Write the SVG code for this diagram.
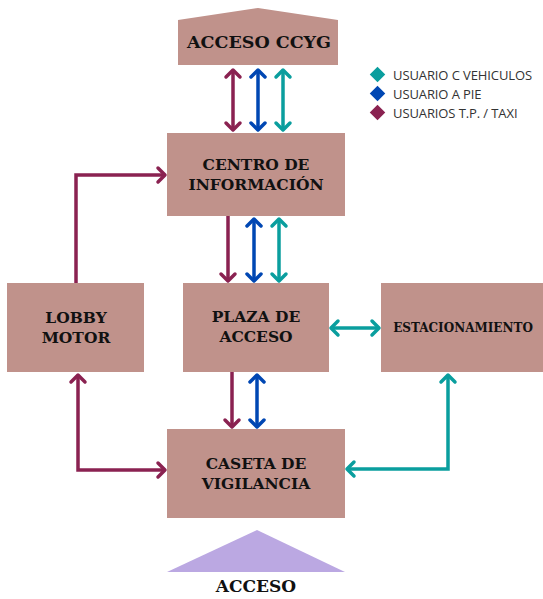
<svg xmlns="http://www.w3.org/2000/svg" width="543" height="599" viewBox="0 0 543 599">
  <style>
    .node { fill: #c0928b; }
    .lbl { font-family: "DejaVu Serif", "Liberation Serif", serif; font-weight: bold; fill: #111; text-anchor: middle; }
    .leg { font-family: "Open Sans", "Liberation Sans", sans-serif; font-size: 13px; fill: #333; letter-spacing: -0.1px; }
    .mag { stroke: #8a2251; }
    .blu { stroke: #0047b3; }
    .tea { stroke: #0a9e9e; }
    .ln { fill: none; stroke-width: 3.5; stroke-linejoin: miter; }
  </style>
  <defs>
    <marker id="hm" markerUnits="userSpaceOnUse" viewBox="-12 -12 24 24" markerWidth="24" markerHeight="24" refX="0" refY="0" orient="auto-start-reverse" overflow="visible">
      <path d="M-7,-7 L0,0 L-7,7" fill="none" stroke="#8a2251" stroke-width="3.5" stroke-linecap="round" stroke-linejoin="round"/>
    </marker>
    <marker id="hb" markerUnits="userSpaceOnUse" viewBox="-12 -12 24 24" markerWidth="24" markerHeight="24" refX="0" refY="0" orient="auto-start-reverse" overflow="visible">
      <path d="M-7,-7 L0,0 L-7,7" fill="none" stroke="#0047b3" stroke-width="3.5" stroke-linecap="round" stroke-linejoin="round"/>
    </marker>
    <marker id="ht" markerUnits="userSpaceOnUse" viewBox="-12 -12 24 24" markerWidth="24" markerHeight="24" refX="0" refY="0" orient="auto-start-reverse" overflow="visible">
      <path d="M-7,-7 L0,0 L-7,7" fill="none" stroke="#0a9e9e" stroke-width="3.5" stroke-linecap="round" stroke-linejoin="round"/>
    </marker>
  </defs>

  <!-- nodes -->
  <g id="acceso-ccyg">
    <polygon class="node" points="178,20 258,8 338,20 338,65 178,65"/>
    <text class="lbl" x="259" y="48" font-size="17.5">ACCESO CCYG</text>
  </g>
  <g id="centro-informacion">
    <rect class="node" x="167" y="133" width="178" height="83"/>
    <text class="lbl" x="256" y="170" font-size="15.5">CENTRO DE</text>
    <text class="lbl" x="256" y="190" font-size="15.5">INFORMACIÓN</text>
  </g>
  <g id="lobby-motor">
    <rect class="node" x="7" y="283" width="137" height="89"/>
    <text class="lbl" x="76" y="323" font-size="15.5">LOBBY</text>
    <text class="lbl" x="76" y="343" font-size="15.5">MOTOR</text>
  </g>
  <g id="plaza-acceso">
    <rect class="node" x="183" y="283" width="146" height="89"/>
    <text class="lbl" x="256" y="322" font-size="15.5">PLAZA DE</text>
    <text class="lbl" x="256" y="342" font-size="15.5">ACCESO</text>
  </g>
  <g id="estacionamiento">
    <rect class="node" x="381" y="283" width="162" height="89"/>
    <text class="lbl" x="463" y="332" font-size="12">ESTACIONAMIENTO</text>
  </g>
  <g id="caseta-vigilancia">
    <rect class="node" x="167" y="429" width="178" height="89"/>
    <text class="lbl" x="256" y="469" font-size="15.5">CASETA DE</text>
    <text class="lbl" x="256" y="489" font-size="15.5">VIGILANCIA</text>
  </g>
  <g id="acceso">
    <polygon points="257,530 345,572 167,572" fill="#bba8e2"/>
    <text class="lbl" x="256" y="592" font-size="17">ACCESO</text>
  </g>

  <!-- legend -->
  <g id="legend">
    <rect x="372" y="69" width="11" height="11" fill="#0a9e9e" transform="rotate(45 377.5 74.5)"/>
    <text class="leg" x="393" y="80">USUARIO C VEHICULOS</text>
    <rect x="372" y="88" width="11" height="11" fill="#0047b3" transform="rotate(45 377.5 93.5)"/>
    <text class="leg" x="393" y="99">USUARIO A PIE</text>
    <rect x="372" y="107" width="11" height="11" fill="#8a2251" transform="rotate(45 377.5 112.5)"/>
    <text class="leg" x="393" y="118">USUARIOS T.P. / TAXI</text>
  </g>

  <!-- connectors -->
  <g id="connectors">
    <!-- acceso ccyg <-> centro -->
    <line class="ln mag" x1="233" y1="70" x2="233" y2="130" marker-start="url(#hm)" marker-end="url(#hm)"/>
    <line class="ln blu" x1="258" y1="70" x2="258" y2="130" marker-start="url(#hb)" marker-end="url(#hb)"/>
    <line class="ln tea" x1="283" y1="70" x2="283" y2="130" marker-start="url(#ht)" marker-end="url(#ht)"/>
    <!-- centro <-> plaza -->
    <line class="ln mag" x1="228" y1="216" x2="228" y2="281" marker-end="url(#hm)"/>
    <line class="ln blu" x1="254" y1="219" x2="254" y2="281" marker-start="url(#hb)" marker-end="url(#hb)"/>
    <line class="ln tea" x1="279" y1="219" x2="279" y2="281" marker-start="url(#ht)" marker-end="url(#ht)"/>
    <!-- plaza <-> caseta -->
    <line class="ln mag" x1="232" y1="372" x2="232" y2="427" marker-end="url(#hm)"/>
    <line class="ln blu" x1="257" y1="375" x2="257" y2="427" marker-start="url(#hb)" marker-end="url(#hb)"/>
    <!-- plaza <-> estacionamiento -->
    <line class="ln tea" x1="331" y1="328" x2="379" y2="328" marker-start="url(#ht)" marker-end="url(#ht)"/>
    <!-- lobby -> centro -->
    <polyline class="ln mag" points="76,283 76,175 165,175" marker-end="url(#hm)"/>
    <!-- lobby <-> caseta -->
    <polyline class="ln mag" points="78,375 78,470 165,470" marker-start="url(#hm)" marker-end="url(#hm)"/>
    <!-- estacionamiento <-> caseta -->
    <polyline class="ln tea" points="448,375 448,469 347,469" marker-start="url(#ht)" marker-end="url(#ht)"/>
  </g>
</svg>
